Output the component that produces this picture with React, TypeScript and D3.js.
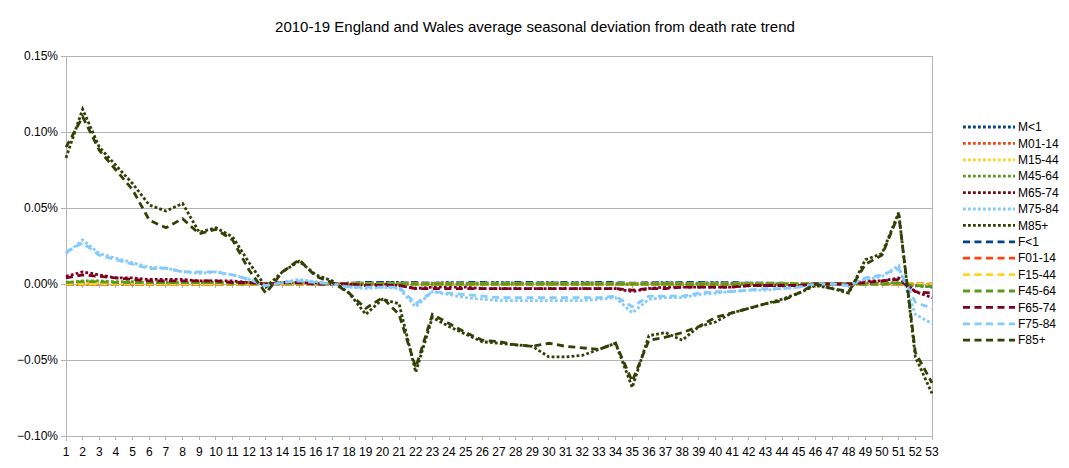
import React from 'react';
import * as d3 from 'd3';

// week numbers 1..53
const weeks: number[] = [
  1, 2, 3, 4, 5, 6, 7, 8, 9, 10, 11, 12, 13, 14, 15, 16, 17, 18, 19, 20,
  21, 22, 23, 24, 25, 26, 27, 28, 29, 30, 31, 32, 33, 34, 35, 36, 37, 38, 39, 40,
  41, 42, 43, 44, 45, 46, 47, 48, 49, 50, 51, 52, 53,
];

const yTicks: number[] = [0.15, 0.1, 0.05, 0, -0.05, -0.1];

// values in percent
const mUnder1: number[] = [
  0, 0, 0, 0, 0, 0, 0, 0, 0, 0,
  0, 0, 0, 0, 0, 0, 0, 0.0005, 0.0005, 0.001,
  0.001, 0.0005, 0.0005, 0.001, 0.0005, 0.0005, 0.001, 0.0005, 0.0005, 0.001,
  0.0005, 0.001, 0.0005, 0.0005, 0, 0.0005, 0.001, 0.0005, 0.0005, 0.001,
  0.0005, 0.0005, 0.0005, 0, 0, 0, 0, 0, 0, 0,
  0, -0.001, -0.002,
];
const m01_14: number[] = [
  0, 0, 0, 0, 0, 0, 0, 0, 0, 0,
  0, 0, 0, 0, 0, 0, 0, 0, 0, 0,
  0, 0, 0, 0, 0, 0, 0, 0, 0, 0,
  0, 0, 0, 0, 0, 0, 0, 0, 0, 0,
  0, 0, 0, 0, 0, 0, 0, 0, 0, 0,
  0, 0, -0.0005,
];
const m15_44: number[] = [
  0.0005, 0.0005, 0.0005, 0.0005, 0.0005, 0, 0, 0, 0, 0,
  0, 0, 0, 0, 0, 0, 0, 0, 0, 0,
  0, 0, 0, 0, 0, 0, 0, 0, 0, 0,
  0, 0, 0, 0, 0, 0, 0, 0, 0, 0,
  0, 0, 0, 0, 0, 0, 0, 0, 0, 0,
  0, 0, -0.001,
];
const m45_64: number[] = [
  0.001, 0.002, 0.002, 0.0015, 0.0015, 0.001, 0.001, 0.001, 0.001, 0.001,
  0.001, 0.001, 0, 0.001, 0.001, 0.0005, 0, 0, 0, 0,
  0, -0.0005, 0, 0, 0, 0, 0, 0, 0, 0,
  0, 0, 0, 0, -0.0005, 0, 0, 0, 0, 0,
  0, 0, 0, 0, 0, 0, 0, 0, 0.0005, 0.0005,
  0.001, -0.001, -0.002,
];
const m65_74: number[] = [
  0.005, 0.008, 0.006, 0.004, 0.004, 0.003, 0.003, 0.003, 0.002, 0.002,
  0.002, 0.001, 0, 0.001, 0.001, 0.001, 0, 0, -0.001, 0,
  -0.001, -0.003, -0.002, -0.002, -0.002, -0.003, -0.003, -0.003, -0.003, -0.003,
  -0.003, -0.003, -0.003, -0.003, -0.005, -0.003, -0.002, -0.002, -0.002, -0.002,
  -0.002, -0.001, -0.001, -0.001, -0.001, 0, 0, 0, 0.002, 0.002,
  0.004, -0.005, -0.009,
];
const m75_84: number[] = [
  0.02, 0.029, 0.02, 0.017, 0.014, 0.011, 0.0105, 0.008, 0.007, 0.008,
  0.006, 0.003, -0.002, 0.001, 0.003, 0.0015, 0, -0.002, -0.003, -0.002,
  -0.003, -0.015, -0.005, -0.007, -0.009, -0.01, -0.011, -0.011, -0.011, -0.011,
  -0.011, -0.011, -0.01, -0.009, -0.019, -0.01, -0.009, -0.009, -0.007, -0.006,
  -0.005, -0.004, -0.004, -0.003, -0.002, 0, 0, -0.001, 0.003, 0.005,
  0.012, -0.02, -0.026,
];
const m85plus: number[] = [
  0.083, 0.115, 0.09, 0.078, 0.066, 0.052, 0.048, 0.053, 0.034, 0.037,
  0.031, 0.014, -0.002, 0.008, 0.015, 0.006, 0.002, -0.006, -0.02, -0.01,
  -0.013, -0.058, -0.022, -0.028, -0.033, -0.038, -0.039, -0.04, -0.041, -0.048,
  -0.048, -0.047, -0.043, -0.039, -0.068, -0.034, -0.032, -0.037, -0.028, -0.025,
  -0.019, -0.016, -0.013, -0.01, -0.006, -0.001, -0.003, -0.006, 0.016, 0.02,
  0.047, -0.048, -0.072,
];
const fUnder1: number[] = [
  0, 0, 0, 0, 0, 0, 0, 0, 0, 0,
  0, 0, 0, 0, 0, 0, 0, 0.0005, 0.001, 0.001,
  0.0005, 0.001, 0.0005, 0.0005, 0.001, 0.001, 0.0005, 0.001, 0.001, 0.0005,
  0.001, 0.0005, 0.001, 0.001, 0.0005, 0.001, 0.0005, 0.001, 0.001, 0.0005,
  0.001, 0.0005, 0.0005, 0.0005, 0, 0, 0, 0, 0, 0,
  0, -0.0005, -0.0015,
];
const f01_14: number[] = [
  0, 0, 0, 0, 0, 0, 0, 0, 0, 0,
  0, 0, 0, 0, 0, 0, 0, 0, 0, 0,
  0, 0, 0, 0, 0, 0, 0, 0, 0, 0,
  0, 0, 0, 0, 0, 0, 0, 0, 0, 0,
  0, 0, 0, 0, 0, 0, 0, 0, 0, 0,
  0, 0, 0,
];
const f15_44: number[] = [
  0, 0, 0, 0, 0, 0, 0, 0, 0, 0,
  0, 0, 0, 0, 0, 0, 0, 0, 0, 0,
  0, 0, 0, 0, 0, 0, 0, 0, 0, 0,
  0, 0, 0, 0, 0, 0, 0, 0, 0, 0,
  0, 0, 0, 0, 0, 0, 0, 0, 0, 0,
  0, 0, -0.0005,
];
const f45_64: number[] = [
  0.001, 0.0015, 0.0015, 0.001, 0.001, 0.001, 0.001, 0.001, 0.001, 0.001,
  0.0005, 0.0005, 0, 0.0005, 0.0005, 0, 0, 0, 0, 0,
  0, 0, 0, 0, 0, 0, 0, 0, 0, 0,
  0, 0, 0, 0, 0, 0, 0, 0, 0, 0,
  0, 0, 0, 0, 0, 0, 0, 0, 0, 0,
  0.0005, -0.001, -0.0015,
];
const f65_74: number[] = [
  0.004, 0.006, 0.005, 0.004, 0.003, 0.002, 0.002, 0.002, 0.002, 0.002,
  0.001, 0.001, 0, 0.001, 0.001, 0, 0, 0, -0.001, -0.001,
  -0.001, -0.003, -0.003, -0.003, -0.003, -0.003, -0.003, -0.003, -0.003, -0.003,
  -0.003, -0.003, -0.003, -0.003, -0.004, -0.003, -0.003, -0.002, -0.002, -0.002,
  -0.002, -0.001, -0.001, -0.001, -0.001, 0, 0, 0, 0.001, 0.002,
  0.003, -0.005, -0.006,
];
const f75_84: number[] = [
  0.021, 0.027, 0.019, 0.016, 0.013, 0.01, 0.0105, 0.008, 0.008, 0.008,
  0.006, 0.003, -0.001, 0.001, 0.002, 0.001, 0, -0.002, -0.002, -0.002,
  -0.002, -0.013, -0.005, -0.006, -0.007, -0.008, -0.009, -0.009, -0.009, -0.009,
  -0.009, -0.009, -0.009, -0.008, -0.015, -0.008, -0.008, -0.008, -0.006, -0.005,
  -0.005, -0.004, -0.003, -0.003, -0.002, 0, 0, -0.001, 0.004, 0.006,
  0.01, -0.012, -0.016,
];
const f85plus: number[] = [
  0.09, 0.11, 0.088, 0.075, 0.062, 0.042, 0.037, 0.043, 0.033, 0.036,
  0.029, 0.009, -0.006, 0.008, 0.016, 0.005, 0.001, -0.006, -0.016, -0.009,
  -0.02, -0.055, -0.02, -0.026, -0.032, -0.037, -0.038, -0.04, -0.041, -0.039,
  -0.041, -0.042, -0.043, -0.039, -0.064, -0.037, -0.035, -0.032, -0.028, -0.022,
  -0.019, -0.016, -0.013, -0.011, -0.006, 0, -0.003, -0.005, 0.013, 0.019,
  0.046, -0.045, -0.065,
];

const seriesNames: string[] = [
  'M<1', 'M01-14', 'M15-44', 'M45-64', 'M65-74', 'M75-84', 'M85+',
  'F<1', 'F01-14', 'F15-44', 'F45-64', 'F65-74', 'F75-84', 'F85+',
];
const seriesValues: number[][] = [
  mUnder1, m01_14, m15_44, m45_64, m65_74, m75_84, m85plus,
  fUnder1, f01_14, f15_44, f45_64, f65_74, f75_84, f85plus,
];
const ageColors: string[] = ['#004586', '#ff420e', '#ffd320', '#579d1c', '#7e0021', '#83caff', '#314004'];

const width = 1069;
const height = 468;
const margin = { top: 56, right: 137, bottom: 32, left: 66 };
const font = '"Liberation Sans", Arial, sans-serif';
const gridColor = '#b3b3b3';

const App: React.FC = () => {
  const x = d3.scaleLinear().domain([1, 53]).range([margin.left, width - margin.right]);
  const y = d3.scaleLinear().domain([-0.1, 0.15]).range([height - margin.bottom, margin.top]);

  const line = d3.line<number>()
    .x((_, i) => x(weeks[i]))
    .y(d => y(d));

  const plotBottom = y(-0.1);
  const zeroY = y(0);

  return (
    <svg width={width} height={height} style={{ position: 'absolute', left: 0, top: 0, background: '#fff' }}
      fontFamily={font}>
      <text x={535} y={32} textAnchor="middle" fontSize={15} fill="#000">
        2010-19 England and Wales average seasonal deviation from death rate trend
      </text>

      {/* grid */}
      {yTicks.map(t => (
        <line key={t} x1={margin.left} x2={width - margin.right} y1={y(t)} y2={y(t)}
          stroke={gridColor} strokeWidth={1} shapeRendering="crispEdges" />
      ))}
      <line x1={margin.left} x2={margin.left} y1={y(0.15)} y2={plotBottom + 5}
        stroke={gridColor} shapeRendering="crispEdges" />
      <line x1={width - margin.right} x2={width - margin.right} y1={y(0.15)} y2={plotBottom}
        stroke={gridColor} shapeRendering="crispEdges" />

      {/* y ticks and labels */}
      {yTicks.map(t => (
        <g key={'yt' + t}>
          <line x1={margin.left - 5} x2={margin.left} y1={y(t)} y2={y(t)}
            stroke={gridColor} shapeRendering="crispEdges" />
          <text x={58} y={y(t)} dy="0.35em" textAnchor="end" fontSize={12} fill="#000">
            {d3.format('.2f')(t) + '%'}
          </text>
        </g>
      ))}

      {/* x ticks: at zero line and at the bottom */}
      {weeks.map(w => (
        <g key={'xt' + w}>
          <line x1={x(w)} x2={x(w)} y1={zeroY} y2={zeroY + 4} stroke={gridColor} shapeRendering="crispEdges" />
          <line x1={x(w)} x2={x(w)} y1={plotBottom} y2={plotBottom + 4} stroke={gridColor} shapeRendering="crispEdges" />
          <text x={x(w)} y={456} textAnchor="middle" fontSize={12} fill="#000">{w}</text>
        </g>
      ))}

      {/* series */}
      {seriesValues.map((vals, i) => {
        const dotted = i < 7;
        return (
          <path key={seriesNames[i]} d={line(vals) || ''} fill="none"
            stroke={ageColors[i % 7]} strokeWidth={2.8}
            strokeDasharray={dotted ? '2.8,2.2' : '7,4.5'} />
        );
      })}

      {/* legend */}
      {seriesNames.map((name, i) => {
        const ly = 127 + i * 16.4;
        const dotted = i < 7;
        return (
          <g key={'lg' + name}>
            <line x1={963} x2={1015} y1={ly} y2={ly} stroke={ageColors[i % 7]} strokeWidth={2.8}
              strokeDasharray={dotted ? '2.8,2.2' : '7,4.5'} />
            <text x={1018} y={ly} dy="0.35em" fontSize={12} fill="#000">{name}</text>
          </g>
        );
      })}
    </svg>
  );
};

export default App;
